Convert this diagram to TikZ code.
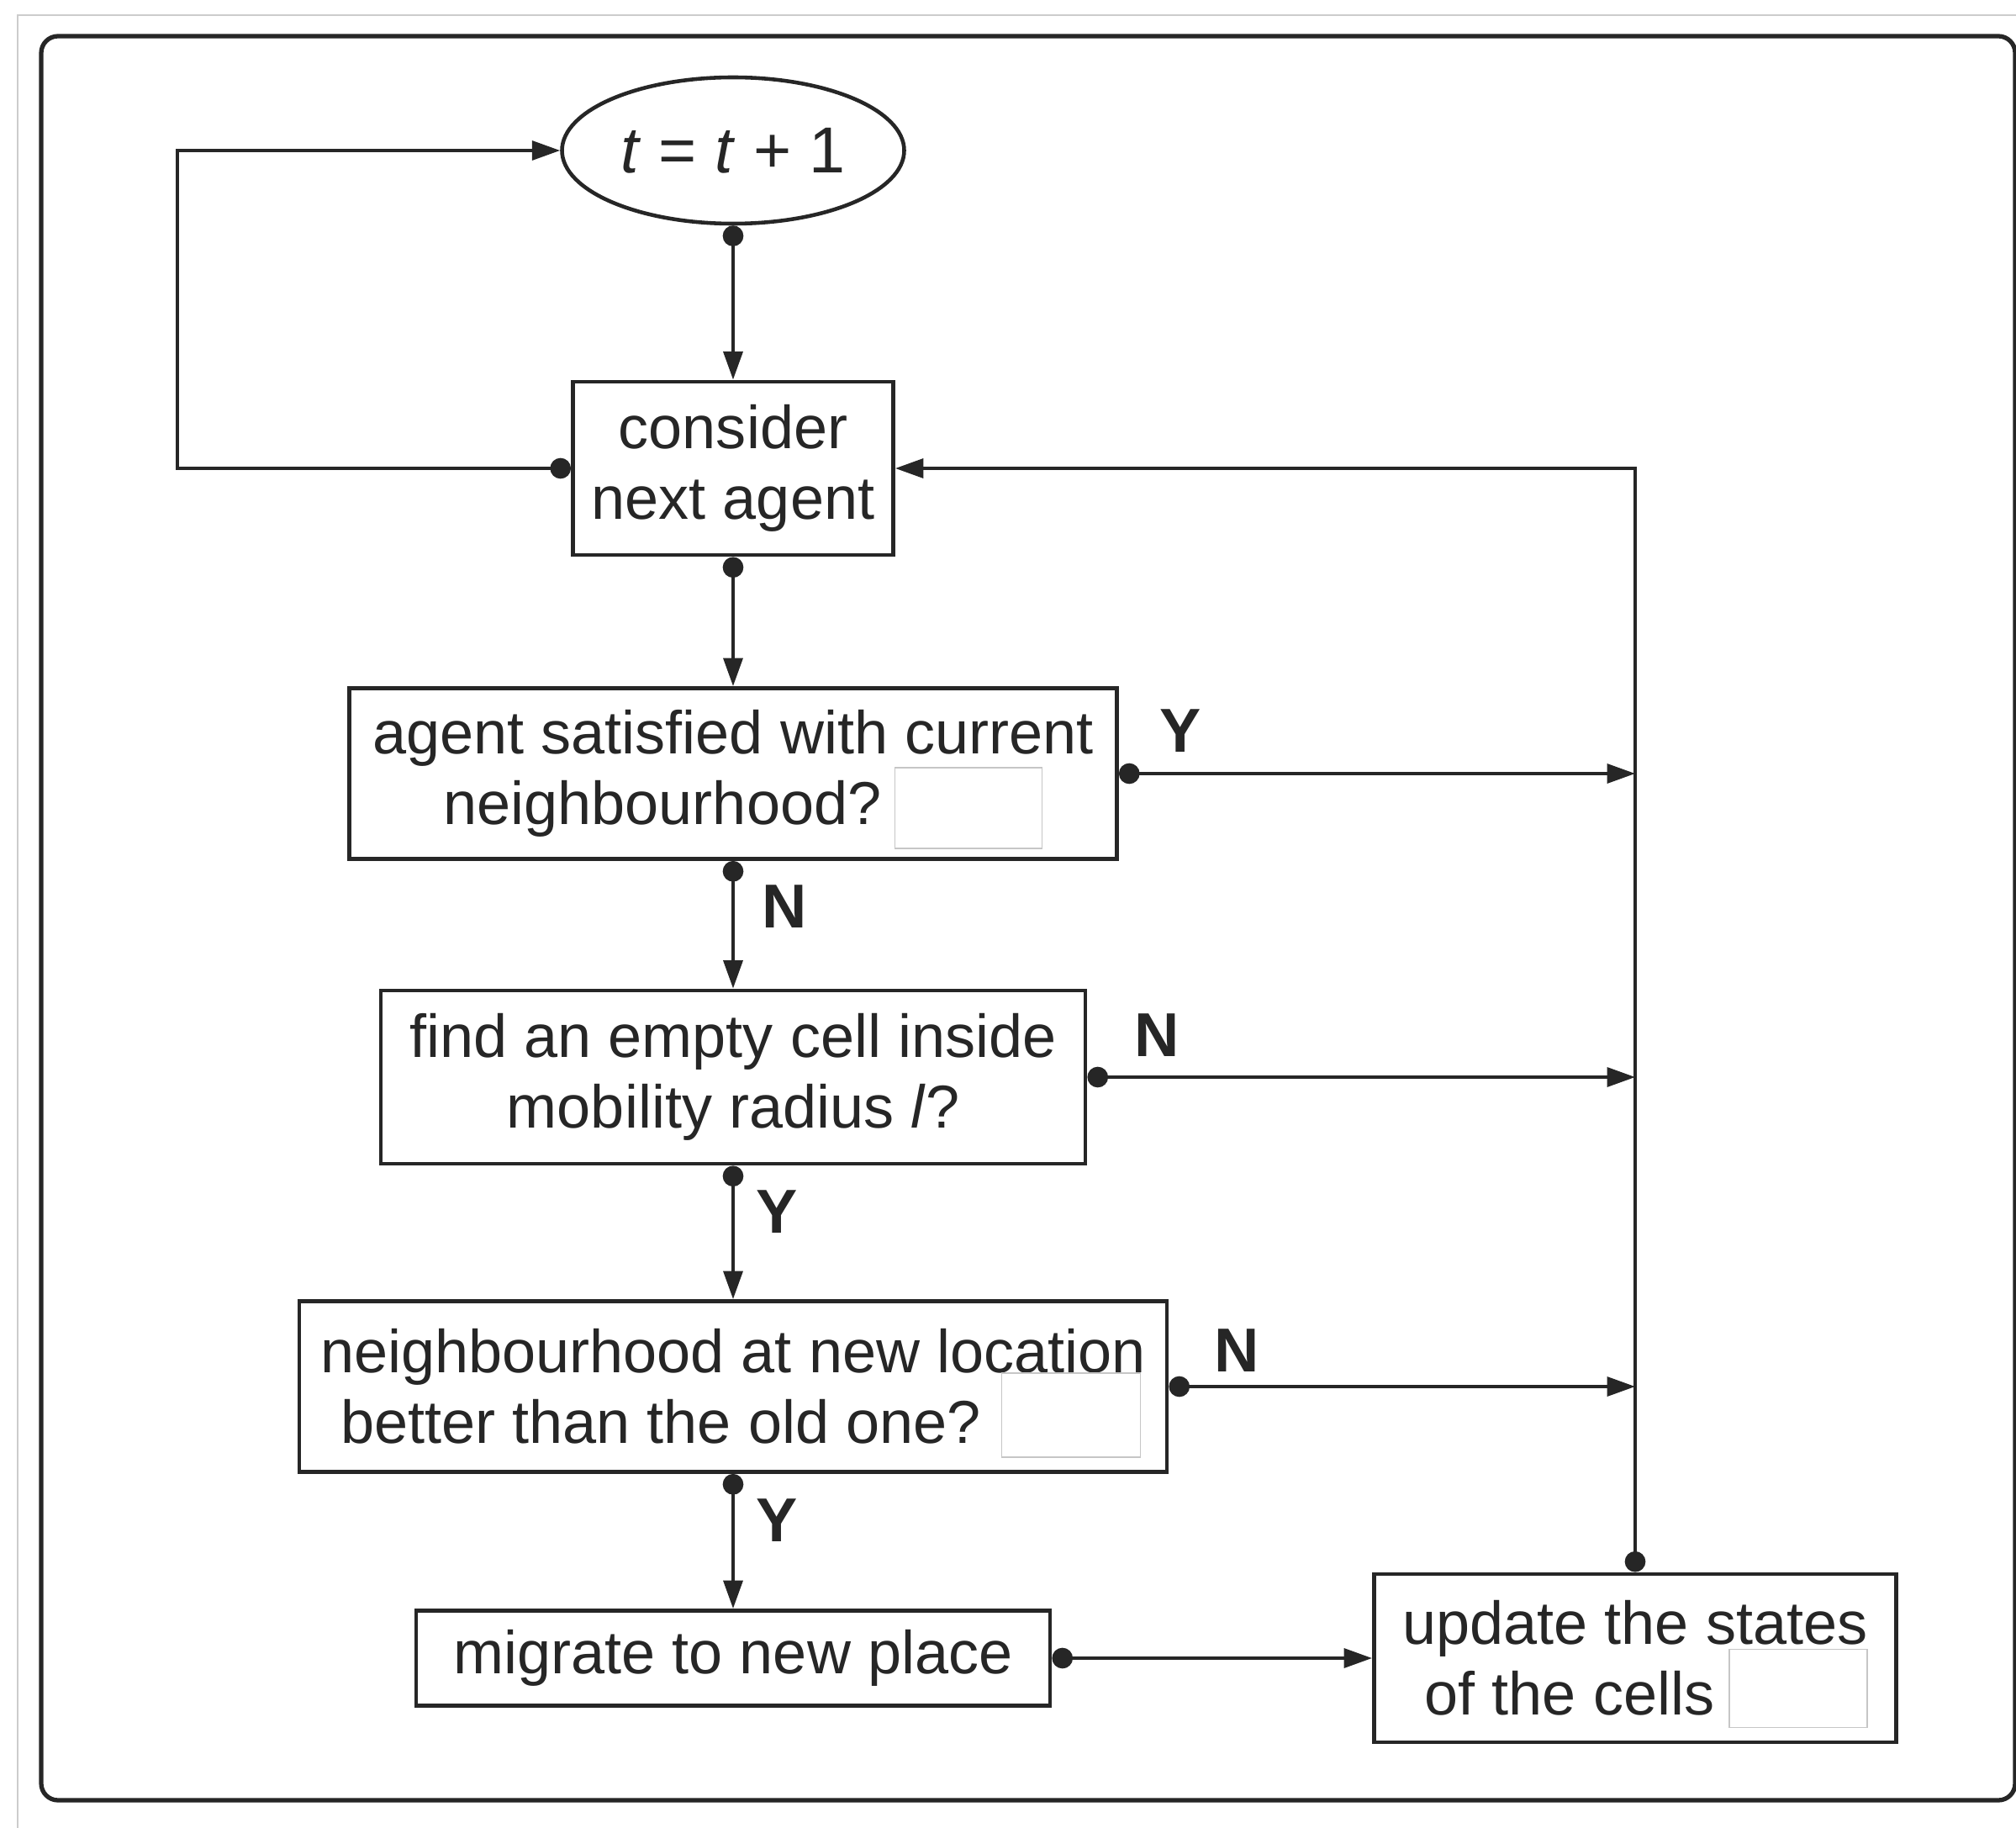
\documentclass[tikz,border=0pt]{standalone}
\usepackage{fontspec}
\setmainfont{Liberation Sans}
\usetikzlibrary{arrows.meta,shapes.geometric}

\begin{document}
\begin{tikzpicture}[>={Triangle[length=9.5pt,width=6.5pt]},
  font=\fontsize{20.5}{24}\selectfont,color=black!85,
  box/.style={draw,line width=1.4pt,inner sep=0pt,align=center},
  blank/.style={draw=gray!45,line width=0.4pt,fill=white,inner sep=0pt},
  yn/.style={font=\fontsize{21}{24}\selectfont\bfseries},
  flow/.style={{Circle[length=7pt]}->,line width=1.1pt}]
\useasboundingbox (0,0) rectangle (23.98,-21.74);
\draw[gray!40,line width=0.4pt] (0.21,-21.74) |- (23.98,-0.18);
\draw[line width=1.5pt,rounded corners=0.2cm] (0.49,-0.43) rectangle (23.97,-21.41);
% time step and agent loop
\node[ellipse,draw,line width=1.3pt,minimum width=4.07cm,minimum height=1.74cm,inner sep=0pt,
  font=\fontsize{22}{24}\selectfont] (clock) at (8.72,-1.79) {\textit{t} = \textit{t} + 1};
\node[box,minimum width=3.81cm,minimum height=2.06cm] (consider) at (8.72,-5.57) {consider\\next agent};
\node[box,minimum width=9.13cm,minimum height=2.03cm] (satisfied) at (8.72,-9.20)
  {agent satisfied with current\\neighbourhood?\hbox to 1.68cm{}};
\node[box,minimum width=8.38cm,minimum height=2.06cm] (findcell) at (8.72,-12.81)
  {find an empty cell inside\\mobility radius \textit{l}?};
\node[box,minimum width=10.32cm,minimum height=2.03cm] (better) at (8.72,-16.49)
  {neighbourhood at new location\\better than the old one?\hbox to 1.72cm{}};
\node[box,minimum width=7.54cm,minimum height=1.13cm] (migrate) at (8.72,-19.72) {migrate to new place};
\node[box,minimum width=6.21cm,minimum height=2.0cm] (update) at (19.45,-19.72)
  {update the states\\of the cells\hbox to 1.56cm{}};
% blanked parts
\node[blank,minimum width=1.75cm,minimum height=0.96cm] (blank1) at (11.52,-9.61) {};
\node[blank,minimum width=1.65cm,minimum height=1.0cm] (blank2) at (12.74,-16.83) {};
\node[blank,minimum width=1.64cm,minimum height=0.93cm] (blank3) at (21.39,-20.08) {};
% answers
\node[yn] (y1) at (14.04,-8.69) {Y};
\node[yn] (n1) at (9.33,-10.78) {N};
\node[yn] (n2) at (13.76,-12.31) {N};
\node[yn] (y2) at (9.24,-14.41) {Y};
\node[yn] (n3) at (14.71,-16.06) {N};
\node[yn] (y3) at (9.24,-18.08) {Y};
\coordinate (loopx) at (2.11,0);
\draw[flow] (clock.south) -- (consider.north);
\draw[flow] (consider.west) -- (consider.west -| loopx) |- (clock.west);
\draw[flow] (consider.south) -- (satisfied.north);
\draw[flow] (satisfied.south) -- (findcell.north);
\draw[flow] (findcell.south) -- (better.north);
\draw[flow] (better.south) -- (migrate.north);
\draw[flow] (migrate.east) -- (update.west);
\foreach \n in {satisfied,findcell,better}
  \draw[flow] (\n.east) -- (\n.east -| update.north);
\draw[flow] (update.north) |- (consider.east);
\end{tikzpicture}
\end{document}
